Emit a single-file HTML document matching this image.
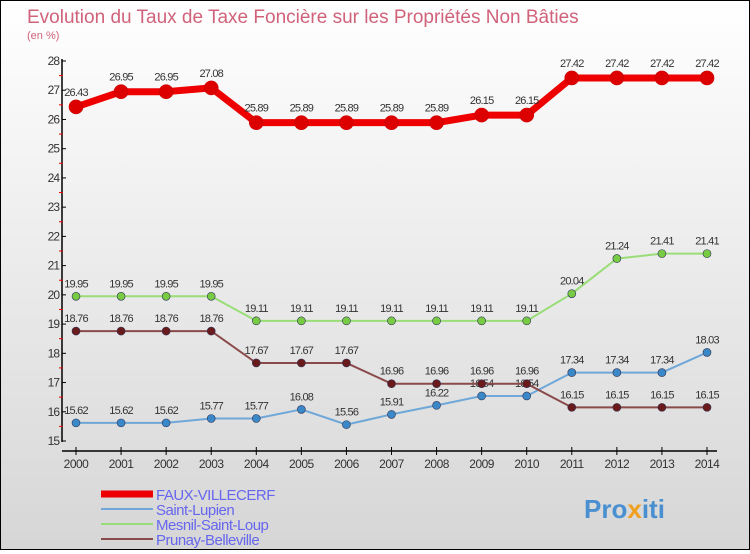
<!DOCTYPE html>
<html><head><meta charset="utf-8"><style>
body{margin:0;width:750px;height:550px;overflow:hidden;font-family:"Liberation Sans",sans-serif}
#c{position:absolute;left:0;top:0;width:748px;height:548px;border:1px solid #000;background:linear-gradient(#ffffff,#d6d6d6)}
</style></head><body>
<div id="c">
<svg id="s" width="748" height="548" xmlns="http://www.w3.org/2000/svg">
<text x="26" y="22" font-size="19" fill="#d0627a">Evolution du Taux de Taxe Foncière sur les Propriétés Non Bâties</text>
<text x="26" y="38" font-size="11" fill="#d0627a">(en %)</text>
<g id="axes"></g><g id="series"></g><g id="legend"></g>
<text x="583" y="517" font-size="26" font-weight="bold" fill="#4a90d0">Pro<tspan fill="#f0a020">x</tspan>iti</text>
</svg></div>
<script>
const years=[2000,2001,2002,2003,2004,2005,2006,2007,2008,2009,2010,2011,2012,2013,2014];
const yTicks=[15,16,17,18,19,20,21,22,23,24,25,26,27,28];
const faux=[26.43,26.95,26.95,27.08,25.89,25.89,25.89,25.89,25.89,26.15,26.15,27.42,27.42,27.42,27.42];
const lupien=[15.62,15.62,15.62,15.77,15.77,16.08,15.56,15.91,16.22,16.54,16.54,17.34,17.34,17.34,18.03];
const mesnil=[19.95,19.95,19.95,19.95,19.11,19.11,19.11,19.11,19.11,19.11,19.11,20.04,21.24,21.41,21.41];
const prunay=[18.76,18.76,18.76,18.76,17.67,17.67,17.67,16.96,16.96,16.96,16.96,16.15,16.15,16.15,16.15];
const names=["FAUX-VILLECERF","Saint-Lupien","Mesnil-Saint-Loup","Prunay-Belleville"];
const NS="http://www.w3.org/2000/svg";
const X=i=>75+i*(706-75)/(years.length-1);
const Y=v=>440-(v-15)*(440-60)/13;
function mk(t,a,p){const e=document.createElementNS(NS,t);for(const k in a)e.setAttribute(k,a[k]);p.appendChild(e);return e;}
const ax=document.getElementById('axes');
let l=mk('line',{x1:61,y1:58,x2:61,y2:441,stroke:'#000','stroke-width':1.5},ax);


l=mk('line',{x1:61,y1:450,x2:716,y2:450,stroke:'#000','stroke-width':1.5},ax);


yTicks.forEach((v,i)=>{const y=Y(v);
 mk('line',{x1:61,y1:y,x2:65,y2:y,stroke:'#000'},ax);
 if(i<yTicks.length-1)mk('line',{x1:58,y1:Y(v+0.5),x2:62,y2:Y(v+0.5),stroke:'#e00'},ax);
 const t=mk('text',{x:58,y:y+4,'font-size':12,'text-anchor':'end',fill:'#333','letter-spacing':'-1'},ax);t.textContent=v;
 
 });
years.forEach((yr,i)=>{const x=X(i);
 mk('line',{x1:x,y1:446,x2:x,y2:454,stroke:'#000'},ax);
 const t=mk('text',{x:x,y:467,'font-size':12,'text-anchor':'middle',fill:'#333','letter-spacing':'-0.5'},ax);t.textContent=yr;
 
 });
const sg=document.getElementById('series');
const defs=[[faux,'#ee0000','#dd0000',7,7],[lupien,'#6fa8d8','#3a88c8',2,4],[mesnil,'#99dd77','#77cc44',2,4],[prunay,'#8a4a4a','#6a1a1a',2,4]];
defs.forEach((d,si)=>{const [vals,lc,pc,w,r]=d;
 const p=mk('polyline',{points:vals.map((v,i)=>X(i)+','+Y(v)).join(' '),fill:'none',stroke:lc,'stroke-width':w,'stroke-linejoin':'round'},sg);
 
 
 vals.forEach((v,i)=>{const c=mk('circle',{cx:X(i),cy:Y(v),r:r,fill:pc,stroke:si==0?'#cc0000':'#335',"stroke-width":0.6},sg);
  
  
  const t=mk('text',{x:X(i),y:Y(v)-(si==0?11:9),'font-size':11,'text-anchor':'middle',fill:'#333','letter-spacing':'-0.8'},sg);t.textContent=v;
  
  });});
const lg=document.getElementById('legend');
defs.forEach((d,si)=>{const y=493+si*15;
 mk('line',{x1:100,y1:y,x2:152,y2:y,stroke:d[1],'stroke-width':si==0?7:2},lg);
 const t=mk('text',{x:155,y:y+6,'font-size':15,fill:'#6666ee','letter-spacing':'-0.5'},lg);t.textContent=names[si];
 
 });
</script>
</body></html>
